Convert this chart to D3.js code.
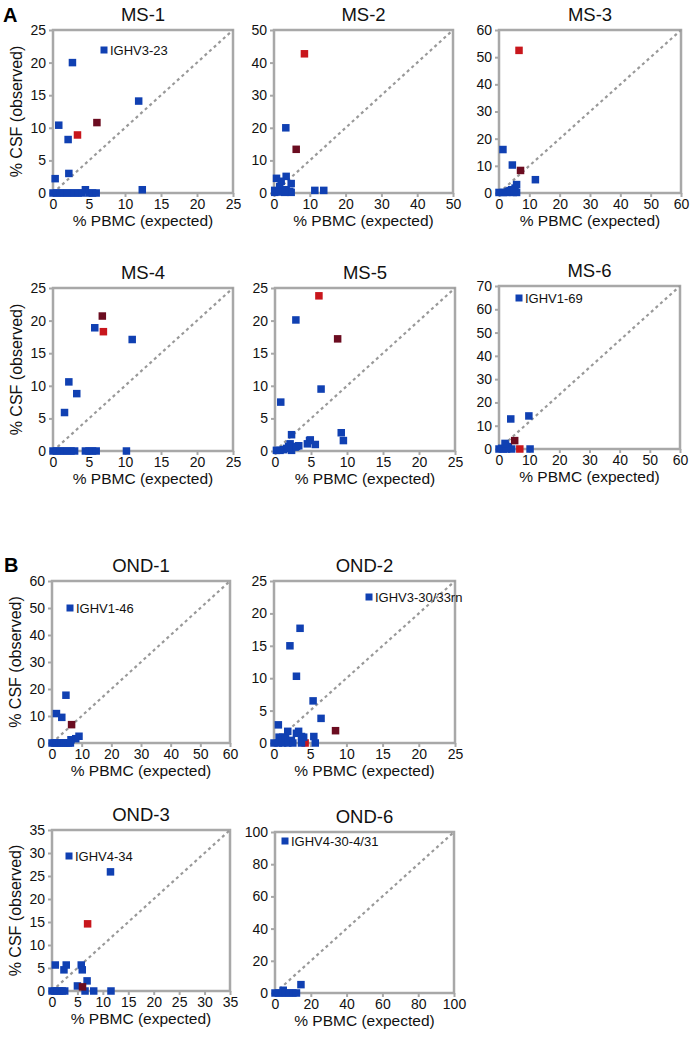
<!DOCTYPE html>
<html>
<head>
<meta charset="utf-8">
<script src="https://cdn.jsdelivr.net/npm/d3@7/dist/d3.min.js"></script>
<style>
  html, body { margin: 0; padding: 0; background: #fff; }
  svg { display: block; font-family: "Liberation Sans", Arial, Helvetica, sans-serif; }
</style>
</head>
<body>
<svg id="chart" width="690" height="1040"></svg>
<script>
// ---------- DATA ----------
const panelNames = ["MS-1","MS-2","MS-3","MS-4","MS-5","MS-6","OND-1","OND-2","OND-3","OND-6"];
const xMax  = [25, 50, 60, 25, 25, 60, 60, 25, 35, 100];
const yMax  = [25, 50, 60, 25, 25, 70, 60, 25, 35, 100];
const xStep = [5, 10, 10, 5, 5, 10, 10, 5, 5, 20];
const yStep = [5, 10, 10, 5, 5, 10, 10, 5, 5, 20];
const legendLabels = ["IGHV3-23", null, null, null, null, "IGHV1-69", "IGHV1-46", "IGHV3-30/33rn", "IGHV4-34", "IGHV4-30-4/31"];
const xTitle = "% PBMC (expected)";
const yTitle = "% CSF (observed)";
const sectionLetters = ["A", "B"];

const ms1Blue = [[2.7,20],[11.9,14.1],[0.8,10.4],[2.1,8.2],[2.2,3.0],[0.3,2.2],[4.5,0.5],[12.4,0.5],[0,0],[0.5,0],[1,0],[1.5,0],[2,0],[2.5,0],[3,0],[3.5,0],[4,0],[5,0],[5.5,0],[6,0]];
const ms1Red  = [[3.4,8.9]];
const ms1Dark = [[6.1,10.8]];

const ms2Blue = [[3.3,20],[0.7,4.5],[3.4,5.1],[4.8,2.9],[11.4,0.8],[13.9,0.8],[0.2,0.8],[1.6,2.0],[2.5,0.5],[3.4,1.0],[4.8,0.2],[2.0,3.6],[0.2,0.2],[4.4,0.5],[3.0,0.2],[1.0,0.3]];
const ms2Red  = [[8.5,42.7]];
const ms2Dark = [[6.2,13.4]];

const ms3Blue = [[1.3,16.0],[4.4,10.3],[12.0,4.9],[0,0.2],[1.4,0.2],[3,0.6],[4.2,1.2],[5.3,1.8],[5.8,3.1],[4.7,0.2],[5.8,0.2],[2.5,0.2],[3.6,0.9],[5.0,0.8]];
const ms3Red  = [[6.6,52.5]];
const ms3Dark = [[7.1,8.3]];

const ms4Blue = [[5.8,18.9],[11.0,17.1],[2.2,10.6],[3.3,8.8],[1.6,5.9],[10.2,0],[0,0],[0.5,0],[1,0],[1.5,0],[2,0],[2.5,0],[3,0],[4.5,0],[5,0],[5.5,0],[6,0]];
const ms4Red  = [[7.0,18.3]];
const ms4Dark = [[6.85,20.7]];

const ms5Blue = [[2.9,20.1],[6.4,9.5],[0.8,7.5],[9.2,2.8],[9.5,1.6],[2.3,2.5],[4.8,1.6],[4.9,1.7],[5.6,1.0],[4.5,1.1],[3.3,0.8],[2.8,0.6],[2.1,1.1],[1.6,0.4],[1.2,0.2],[0.2,0.1],[0.7,0.1],[2.3,0.1],[1.9,0.7],[3.0,0.7]];
const ms5Red  = [[6.1,23.8]];
const ms5Dark = [[8.7,17.2]];

const ms6Blue = [[3.9,12.9],[9.9,14.2],[10.3,0],[0,0],[0.9,0.3],[2.2,1.7],[3.1,1],[4.2,0],[1.4,0],[2.5,0],[2,2.4]];
const ms6Red  = [[6.9,0]];
const ms6Dark = [[5.2,3.6]];

const ond1Blue = [[4.7,17.7],[1.5,10.9],[3.3,9.5],[9.1,2.5],[8.0,1.6],[6.4,1.2],[0,0],[0.8,0],[1.6,0],[2.4,0],[3.2,0],[4,0],[4.8,0],[5.6,0],[6.2,0]];
const ond1Red  = [];
const ond1Dark = [[6.6,6.8]];

const ond2Blue = [[3.6,17.7],[2.2,15.0],[3.1,10.3],[5.4,6.5],[6.5,3.8],[0.6,2.8],[1.9,1.8],[3.4,1.8],[3.1,1.5],[5.5,1.0],[3.8,1.0],[4.1,0.9],[1.2,0.9],[0.7,0.9],[1.6,0.7],[2.4,0.4],[0,0],[0.6,0],[1.2,0],[1.9,0],[2.6,0],[3.8,0],[5.7,0]];
const ond2Red  = [[4.3,0]];
const ond2Dark = [[8.5,1.9]];

const ond3Blue = [[11.5,25.9],[0.65,5.65],[2.8,5.65],[2.35,4.6],[5.75,5.65],[5.95,4.6],[6.9,2.2],[5.0,1.1],[6.5,0],[8.2,0],[11.6,0],[0,0],[0.5,0],[1,0],[1.5,0],[2,0],[2.5,0]];
const ond3Red  = [[7.0,14.6]];
const ond3Dark = [[6.0,0.9]];

const ond6Blue = [[14.5,5.2],[4.6,1.7],[0,0],[2,0],[4,0],[6,0],[8,0],[10,0],[12,0]];
const ond6Red  = [];
const ond6Dark = [];

const blueSeries = [ms1Blue, ms2Blue, ms3Blue, ms4Blue, ms5Blue, ms6Blue, ond1Blue, ond2Blue, ond3Blue, ond6Blue];
const redSeries  = [ms1Red, ms2Red, ms3Red, ms4Red, ms5Red, ms6Red, ond1Red, ond2Red, ond3Red, ond6Red];
const darkSeries = [ms1Dark, ms2Dark, ms3Dark, ms4Dark, ms5Dark, ms6Dark, ond1Dark, ond2Dark, ond3Dark, ond6Dark];

// ---------- LAYOUT / STYLE ----------
const layout = [
  {l: 53,  t: 30,  w: 180, h: 163, yt: true,  lg: [51, 20]},
  {l: 274, t: 30,  w: 179, h: 163, yt: false},
  {l: 499, t: 30,  w: 182, h: 163, yt: false},
  {l: 53,  t: 288, w: 180, h: 163, yt: true},
  {l: 275, t: 288, w: 180, h: 163, yt: false},
  {l: 499, t: 286, w: 181, h: 163, yt: false, lg: [20, 12]},
  {l: 52,  t: 581, w: 178, h: 162, yt: true,  lg: [18, 27]},
  {l: 274, t: 581, w: 181, h: 162, yt: false, lg: [95, 16]},
  {l: 52,  t: 830, w: 178, h: 161, yt: true,  lg: [17, 26]},
  {l: 275, t: 832, w: 179, h: 161, yt: false, lg: [10, 9]}
];
const letterPos = [[3, 22], [4, 572]];
const colBlue = "#1040b2", colRed = "#c8161c", colDark = "#6b0c20";
const frameCol = "#a8a8a8";
const S = 7.5;

const svg = d3.select("#chart");

sectionLetters.forEach((t, i) => {
  svg.append("text").attr("x", letterPos[i][0]).attr("y", letterPos[i][1])
    .attr("font-size", 20).attr("font-weight", "bold").attr("fill", "#000").text(t);
});

panelNames.forEach((name, i) => {
  const L = layout[i];
  const x = d3.scaleLinear().domain([0, xMax[i]]).range([L.l, L.l + L.w]);
  const y = d3.scaleLinear().domain([0, yMax[i]]).range([L.t + L.h, L.t]);
  const g = svg.append("g");

  // title
  g.append("text").attr("x", L.l + L.w / 2).attr("y", L.t - 9)
    .attr("text-anchor", "middle").attr("font-size", 18.5).attr("fill", "#111").text(name);

  // axes
  const xa = g.append("g").attr("transform", `translate(0,${L.t + L.h})`)
    .call(d3.axisBottom(x).tickValues(d3.range(0, xMax[i] + 0.001, xStep[i])).tickSize(4).tickPadding(2).tickFormat(d3.format("d")));
  const ya = g.append("g").attr("transform", `translate(${L.l},0)`)
    .call(d3.axisLeft(y).tickValues(d3.range(0, yMax[i] + 0.001, yStep[i])).tickSize(4).tickPadding(3).tickFormat(d3.format("d")));
  [xa, ya].forEach(a => {
    a.select(".domain").remove();
    a.selectAll(".tick line").attr("stroke", frameCol).attr("stroke-width", 2);
    a.selectAll(".tick text").attr("font-size", 14).attr("fill", "#111")
      .attr("font-family", "'Liberation Sans', Arial, sans-serif");
  });

  // frame
  g.append("rect").attr("x", L.l).attr("y", L.t).attr("width", L.w).attr("height", L.h)
    .attr("fill", "none").attr("stroke", frameCol).attr("stroke-width", 2.5);

  // diagonal
  g.append("line").attr("x1", x(0)).attr("y1", y(0)).attr("x2", x(xMax[i])).attr("y2", y(yMax[i]))
    .attr("stroke", "#999").attr("stroke-width", 2.2).attr("stroke-dasharray", "3,3.2");

  // axis titles
  g.append("text").attr("x", L.l + L.w / 2).attr("y", L.t + L.h + 33)
    .attr("text-anchor", "middle").attr("font-size", 15.5).attr("fill", "#111").text(xTitle);
  if (L.yt) {
    g.append("text").attr("transform", `translate(${L.l - 31},${L.t + L.h / 2}) rotate(-90)`)
      .attr("text-anchor", "middle").attr("font-size", 16).attr("fill", "#111").text(yTitle);
  }

  // points: red, blue, dark red
  const drawPts = (data, col) => {
    g.append("g").selectAll("rect").data(data).join("rect")
      .attr("x", d => x(d[0]) - S / 2).attr("y", d => y(d[1]) - S / 2)
      .attr("width", S).attr("height", S).attr("fill", col);
  };
  drawPts(redSeries[i], colRed);
  drawPts(blueSeries[i], colBlue);
  drawPts(darkSeries[i], colDark);

  // legend
  if (legendLabels[i] && L.lg) {
    const cx = L.l + L.lg[0], cy = L.t + L.lg[1];
    g.append("rect").attr("x", cx - 3.5).attr("y", cy - 3.5).attr("width", 7).attr("height", 7).attr("fill", colBlue);
    g.append("text").attr("x", cx + 6).attr("y", cy + 4.5).attr("font-size", 13).attr("fill", "#111").text(legendLabels[i]);
  }
});
</script>
</body>
</html>
